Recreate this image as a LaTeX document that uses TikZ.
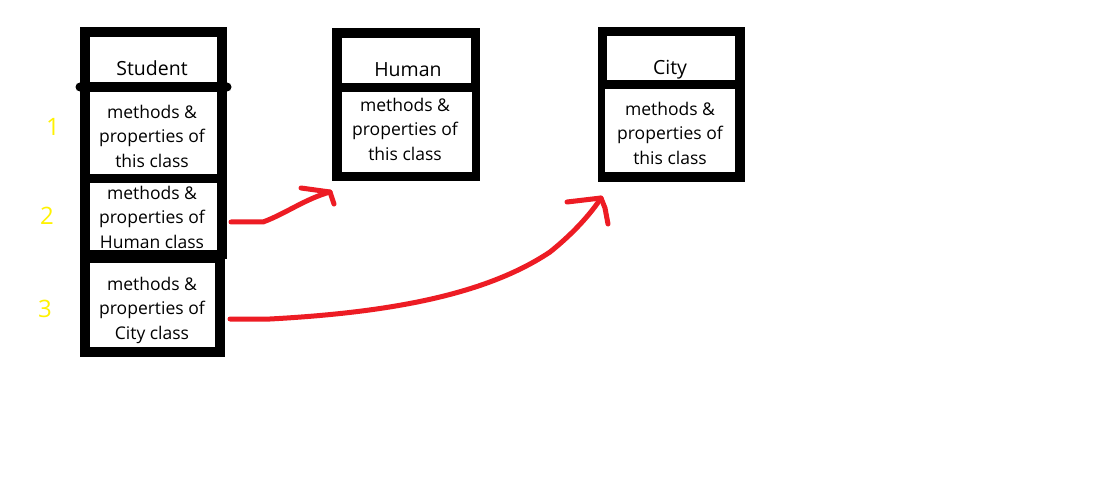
\documentclass[tikz,border=0pt]{standalone}
\usepackage{fontspec}
\setmainfont{Open Sans}
\definecolor{penred}{RGB}{237,28,36}
\definecolor{numyellow}{RGB}{255,242,0}
\begin{document}
\begin{tikzpicture}[x=1pt,y=-1pt,
  frame/.style={fill=black},
  cell/.style={fill=white},
  body/.style={font=\fontsize{17.5}{24.5}\selectfont, align=center, inner sep=0pt},
  title/.style={font=\fontsize{19.5}{23}\selectfont, inner sep=0pt},
  num/.style={text=numyellow, font=\fontsize{24}{28}\selectfont, inner sep=0pt},
  pen/.style={draw=penred, line width=5pt, line cap=round, line join=round}]
\useasboundingbox[fill=white] (0,0) rectangle (1096,492);

% black frames
\fill[frame] (80,27) rectangle (227,259);
\fill[frame] (80,250) rectangle (225,357);
\fill[frame] (80,87) circle (4.5);
\fill[frame] (227,87) circle (4.5);
\fill[frame] (332,28) rectangle (480,181);
\fill[frame] (598,27) rectangle (745,182);

% white cells
\fill[cell] (90,37) rectangle (217,82);
\fill[cell] (90,92) rectangle (217,174);
\fill[cell] (90,183) rectangle (217,250);
\fill[cell] (90,263) rectangle (215,347);
\fill[cell] (342,38) rectangle (471,83);
\fill[cell] (342,92) rectangle (472,172);
\fill[cell] (607,36) rectangle (735,80);
\fill[cell] (605,89) rectangle (735,172);

% texts
\node[title] (st) at (152,68) {Student};
\node[body] (s1) at (152,136) {methods \&\\properties of\\this class};
\node[body] (s2) at (152,217) {methods \&\\properties of\\Human class};
\node[body] (s3) at (152,310) {methods \&\\properties of\\City class};
\node[title] (hu) at (408,70) {Human};
\node[body] (h1) at (405,129) {methods \&\\properties of\\this class};
\node[title] (ci) at (670,70) {City};
\node[body] (c1) at (670,133) {methods \&\\properties of\\this class};

\node[num] (n1) at (53,127) {1};
\node[num] (n2) at (47,216) {2};
\node[num] (n3) at (45,309) {3};

% arrows
\coordinate (a1s) at (231,222);
\coordinate (a1e) at (330,192);
\coordinate (a1h) at (301,188);
\coordinate (a1b) at (334,204);
\draw[pen] (a1s) -- (263,222) .. controls (285,214) and (305,199) .. (a1e);
\draw[pen] (a1h) -- (a1e) -- (a1b);

\coordinate (a2s) at (230,319);
\coordinate (a2e) at (601,198);
\coordinate (a2h) at (567,202);
\coordinate (a2b) at (608,224);
\draw[pen] (a2s) -- (270,319) .. controls (400,312) and (490,292) .. (550,252) .. controls (575,232) and (592,212) .. (a2e);
\draw[pen] (a2h) -- (a2e) -- (605,208) -- (a2b);
\end{tikzpicture}
\end{document}
